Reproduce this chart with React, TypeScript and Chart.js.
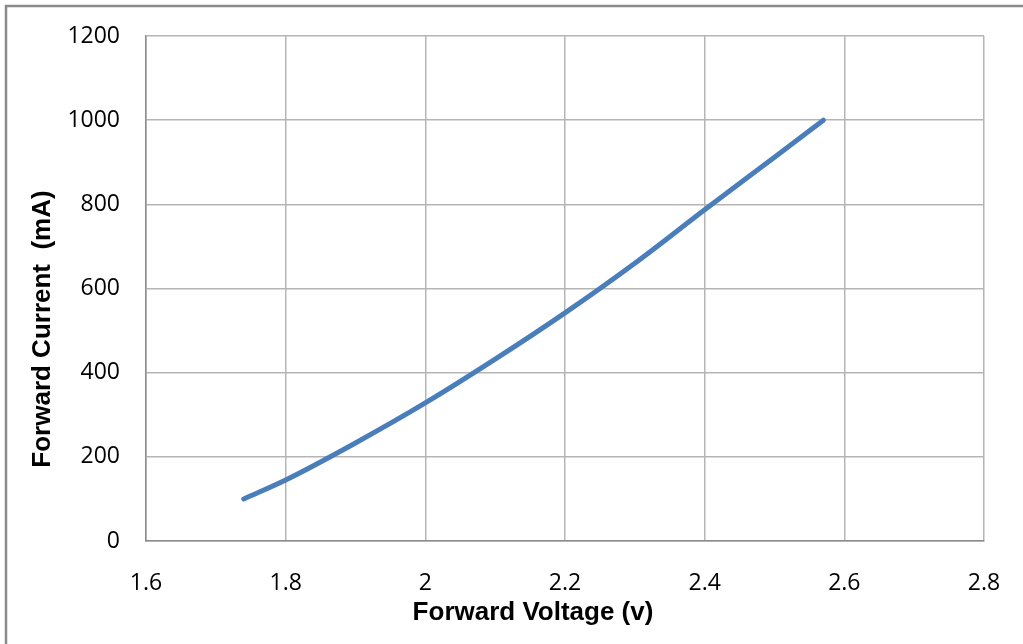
import React, { useEffect, useRef } from "react";
import { Chart, registerables } from "chart.js";

Chart.register(...registerables);

const voltage = [1.74, 1.8, 1.9, 2.0, 2.1, 2.2, 2.3, 2.4, 2.5, 2.57];
const current = [100, 145, 233, 328, 432, 542, 660, 787, 912, 1000];
const xTitle = "Forward Voltage (v)";
const yTitle = "Forward Current  (mA)";

const framePlugin = {
  id: "frameAndTitles",
  afterDraw(chart: any) {
    const ctx = chart.ctx;
    ctx.save();
    ctx.strokeStyle = "#8a8a8a";
    ctx.lineWidth = 2.5;
    ctx.beginPath();
    ctx.moveTo(1030, 6);
    ctx.lineTo(6, 6);
    ctx.lineTo(6, 650);
    ctx.stroke();

    ctx.fillStyle = "#000";
    ctx.font = "bold 26px 'Liberation Sans', Arial, sans-serif";
    ctx.textAlign = "center";
    ctx.textBaseline = "middle";
    ctx.fillText(xTitle, 533, 613);
    ctx.translate(43, 329);
    ctx.rotate(-Math.PI / 2);
    ctx.fillText(yTitle, 0, 0);
    ctx.restore();
  },
};

export default function App() {
  const ref = useRef<HTMLCanvasElement>(null);
  useEffect(() => {
    if (!ref.current) return;
    const chart = new Chart(ref.current, {
      type: "line",
      data: {
        datasets: [
          {
            data: voltage.map((v, i) => ({ x: v, y: current[i] })),
            borderColor: "#4a7ebb",
            borderWidth: 5,
            borderCapStyle: "round",
            pointRadius: 0,
            cubicInterpolationMode: "monotone",
            fill: false,
          },
        ],
      },
      options: {
        animation: false,
        responsive: false,
        devicePixelRatio: 1,
        layout: { padding: { top: 36, right: 39, bottom: 0, left: 0 } },
        plugins: { legend: { display: false }, tooltip: { enabled: false } },
        scales: {
          x: {
            type: "linear",
            min: 1.6,
            max: 2.8,
            ticks: {
              stepSize: 0.2,
              padding: 29,
              color: "#000",
              font: { family: "'Open Sans', sans-serif", size: 23 },
              callback: (v: any) => String(Math.round(Number(v) * 10) / 10),
            },
            grid: { color: "#b5b5b5", lineWidth: 1.5, drawTicks: false },
            border: { color: "#8c8c8c", width: 1.5 },
            afterFit: (s: any) => {
              s.height = 103;
              s.paddingLeft = 0;
              s.paddingRight = 0;
            },
          },
          y: {
            min: 0,
            max: 1200,
            ticks: {
              stepSize: 200,
              padding: 26,
              color: "#000",
              font: { family: "'Open Sans', sans-serif", size: 23 },
              callback: (v: any) => String(v),
            },
            grid: { color: "#b5b5b5", lineWidth: 1.5, drawTicks: false },
            border: { color: "#8c8c8c", width: 1.5 },
            afterFit: (s: any) => {
              s.width = 146;
              s.paddingTop = 0;
              s.paddingBottom = 0;
            },
          },
        },
      },
      plugins: [framePlugin],
    } as any);
    return () => chart.destroy();
  }, []);
  return (
    <div style={{ position: "absolute", left: 0, top: 0, width: 1023, height: 644, background: "#fff" }}>
      <canvas ref={ref} width={1023} height={644} style={{ width: 1023, height: 644 }} />
    </div>
  );
}
